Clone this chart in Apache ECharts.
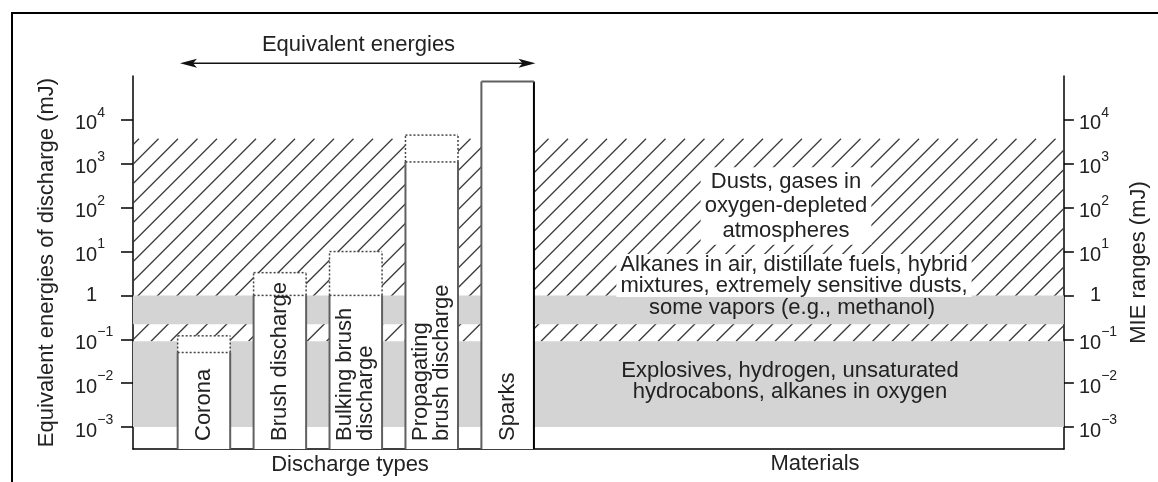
<!DOCTYPE html>
<html><head><meta charset="utf-8">
<script src="https://cdn.jsdelivr.net/npm/echarts@6/dist/echarts.min.js"></script>
<style>html,body{margin:0;padding:0;background:#fff}#c{width:1158px;height:482px}</style>
</head><body><div id="c"></div>
<script>
// ---------- data ----------
const dischargeTypes = ['Corona', 'Brush discharge', 'Bulking brush\ndischarge', 'Propagating\nbrush discharge', 'Sparks'];
const dischargeTypical = [0.05, 1, 1, 1100, 75000];      // mJ, solid part of bar
const dischargeUpper   = [0.12, 3.3, 10, 4500, null];    // mJ, dotted extension
const grayBandLow  = [0.001, 0.22];                      // mJ
const grayBandHigh = [0.09, 1];                          // mJ
const hatchRange   = [0.09, 3700];                       // mJ
const yTickExponents = [-3, -2, -1, 0, 1, 2, 3, 4];
const materialLabels = [
  'Explosives, hydrogen, unsaturated\nhydrocabons, alkanes in oxygen',
  'Alkanes in air, distillate fuels, hybrid\nmixtures, extremely sensitive dusts,',
  'some vapors (e.g., methanol)',
  'Dusts, gases in\noxygen-depleted\natmospheres'
];
const titleText = 'Equivalent energies';
const leftAxisName = 'Equivalent energies of discharge (mJ)';
const rightAxisName = 'MIE ranges (mJ)';
const xGroupLabels = ['Discharge types', 'Materials'];

// ---------- layout / style ----------
const FONT = "'Liberation Sans', Arial, Helvetica, sans-serif";
const TXT = '#222';
const X_MIN = -0.934, X_MAX = 11.325, HALF = 0.346;
const Y_MIN = -3.5, Y_MAX = 5;
const HATCH_STEP = 19.5;
const lg = v => Math.log10(v);

const chart = echarts.init(document.getElementById('c'), null, {renderer: 'canvas'});

function tickFmt(v) {
  const e = Math.round(v);
  if (e === 0) return '{t|1}{b|1}';
  return '{b|10}{s|' + (e < 0 ? '\u2212' + (-e) : e) + '}';
}
const labelRich = {
  b: {fontSize: 20, lineHeight: 20, verticalAlign: 'bottom', color: TXT, fontFamily: FONT},
  t: {fontSize: 20, lineHeight: 20, verticalAlign: 'bottom', color: 'rgba(0,0,0,0)', fontFamily: FONT},
  s: {fontSize: 14, lineHeight: 28, verticalAlign: 'top', color: TXT, fontFamily: FONT}
};
function yAxisCfg(pos, name, gap, tickLen, margin) {
  return {
    type: 'value', min: Y_MIN, max: Y_MAX, interval: 0.5, position: pos,
    name: name, nameLocation: 'middle', nameGap: gap,
    nameTextStyle: {fontSize: 22, color: TXT, fontFamily: FONT},
    axisLine: {show: true, onZero: false, lineStyle: {color: '#000', width: 1.5}},
    axisTick: {show: true, inside: false, length: tickLen, customValues: yTickExponents, lineStyle: {color: '#000', width: 1.5}},
    axisLabel: {show: true, customValues: yTickExponents, formatter: tickFmt, rich: labelRich, align: 'left', margin: margin},
    splitLine: {show: false}
  };
}

const hatchSeries = {
  type: 'custom', z: 1, silent: true, animation: false,
  xAxisIndex: 0, yAxisIndex: 0,
  data: [[lg(hatchRange[0]), lg(hatchRange[1])]],
  renderItem(params, api) {
    const cs = params.coordSys;
    const x0 = cs.x, x1 = cs.x + cs.width;
    const y1 = api.coord([X_MIN, api.value(0)])[1];
    const y0 = api.coord([X_MIN, api.value(1)])[1];
    const children = [];
    for (let k = x0 + y0 + 6; k < x1 + y1; k += HATCH_STEP) {
      const xa = Math.max(x0, k - y1), xb = Math.min(x1, k - y0);
      if (xb <= xa) continue;
      children.push({type: 'line', shape: {x1: xa, y1: k - xa, x2: xb, y2: k - xb},
        style: {stroke: '#3a3a3a', lineWidth: 1.3}});
    }
    return {type: 'group', children};
  }
};

const graySeries = {
  type: 'custom', z: 2, silent: true, animation: false,
  data: grayBandLow.map((lo, i) => [lg(lo), lg(grayBandHigh[i])]),
  renderItem(params, api) {
    const cs = params.coordSys;
    const yb = api.coord([X_MIN, api.value(0)])[1];
    const yt = api.coord([X_MIN, api.value(1)])[1];
    return {type: 'rect', shape: {x: cs.x, y: yt, width: cs.width, height: yb - yt},
      style: {fill: '#d4d4d4'}};
  }
};

const barSeries = {
  type: 'custom', z: 3, silent: true, animation: false,
  data: dischargeTypes.map((n, i) => [i, lg(dischargeTypical[i])]),
  renderItem(params, api) {
    const i = params.dataIndex;
    const cs = params.coordSys;
    const bottom = cs.y + cs.height;
    const xl = api.coord([api.value(0) - HALF, 0])[0];
    const xr = api.coord([api.value(0) + HALF, 0])[0];
    const cx = api.coord([api.value(0), 0])[0];
    const yTyp = api.coord([api.value(0), api.value(1)])[1];
    const up = dischargeUpper[i];
    const yUp = up == null ? yTyp : api.coord([api.value(0), lg(up)])[1];
    const solid = {stroke: '#606060', lineWidth: 2};
    const dotted = {stroke: '#444', lineWidth: 1.5, lineDash: [2, 2]};
    const last = i === dischargeTypes.length - 1;
    const ch = [];
    ch.push({type: 'rect', shape: {x: xl, y: yUp, width: xr - xl, height: bottom - yUp}, style: {fill: '#fff'}});
    ch.push({type: 'line', shape: {x1: xl, y1: bottom, x2: xl, y2: yTyp}, style: solid});
    ch.push({type: 'line', shape: {x1: xr, y1: bottom, x2: xr, y2: yTyp}, style: last ? {stroke: '#000', lineWidth: 2} : solid});
    if (up == null) {
      ch.push({type: 'line', shape: {x1: xl, y1: yTyp, x2: xr, y2: yTyp}, style: solid});
    } else {
      ch.push({type: 'line', shape: {x1: xl, y1: yTyp, x2: xr, y2: yTyp}, style: dotted});
      ch.push({type: 'line', shape: {x1: xl, y1: yUp, x2: xr, y2: yUp}, style: dotted});
      ch.push({type: 'line', shape: {x1: xl, y1: yTyp, x2: xl, y2: yUp}, style: dotted});
      ch.push({type: 'line', shape: {x1: xr, y1: yTyp, x2: xr, y2: yUp}, style: dotted});
    }
    ch.push({type: 'text', x: cx, y: bottom - 8, rotation: Math.PI / 2,
      style: {text: dischargeTypes[i], fontSize: 22, lineHeight: 21, fill: TXT, fontFamily: FONT,
        align: 'left', verticalAlign: 'middle'}});
    return {type: 'group', children: ch};
  }
};

function txt(x, y, text, extra) {
  return {type: 'text', x: x, y: y, z: 100,
    style: Object.assign({text: text, fontSize: 22, fill: TXT, fontFamily: FONT, align: 'center', verticalAlign: 'middle'}, extra || {})};
}

const option = {
  animation: false,
  backgroundColor: '#fff',
  grid: {left: 133, right: 86, top: 76, bottom: 33, containLabel: false},
  xAxis: {type: 'value', min: X_MIN, max: X_MAX,
    axisLine: {show: true, onZero: false, lineStyle: {color: '#000', width: 1.5}},
    axisTick: {show: false}, axisLabel: {show: false}, splitLine: {show: false}},
  yAxis: [
    yAxisCfg('left', leftAxisName, 75, 12, 58),
    yAxisCfg('right', rightAxisName, 55, 10, 15)
  ],
  series: [hatchSeries, graySeries, barSeries],
  graphic: [
    {type: 'rect', z: 100, shape: {x: 12, y: 13, width: 1170, height: 500}, style: {fill: 'none', stroke: '#000', lineWidth: 2}},
    txt(358.5, 45, titleText),
    {type: 'line', z: 100, shape: {x1: 186, y1: 63.3, x2: 529, y2: 63.3}, style: {stroke: '#111', lineWidth: 1.5}},
    {type: 'polygon', z: 100, shape: {points: [[180, 63.3], [197, 58.8], [193, 63.3], [197, 67.8]]}, style: {fill: '#111'}},
    {type: 'polygon', z: 100, shape: {points: [[535.5, 63.3], [518.5, 58.8], [522.5, 63.3], [518.5, 67.8]]}, style: {fill: '#111'}},
    txt(350, 465, xGroupLabels[0]),
    txt(815, 464, xGroupLabels[1]),
    txt(786, 206, materialLabels[3], {lineHeight: 24.5, backgroundColor: '#fff', padding: [2, 4, 2, 4]}),
    txt(794, 275.5, materialLabels[1], {lineHeight: 21, backgroundColor: '#fff', padding: [1, 4, 0, 4]}),
    txt(792, 308, materialLabels[2], {lineHeight: 21}),
    txt(790, 381.5, materialLabels[0], {lineHeight: 21})
  ]
};
chart.setOption(option);
</script></body></html>
